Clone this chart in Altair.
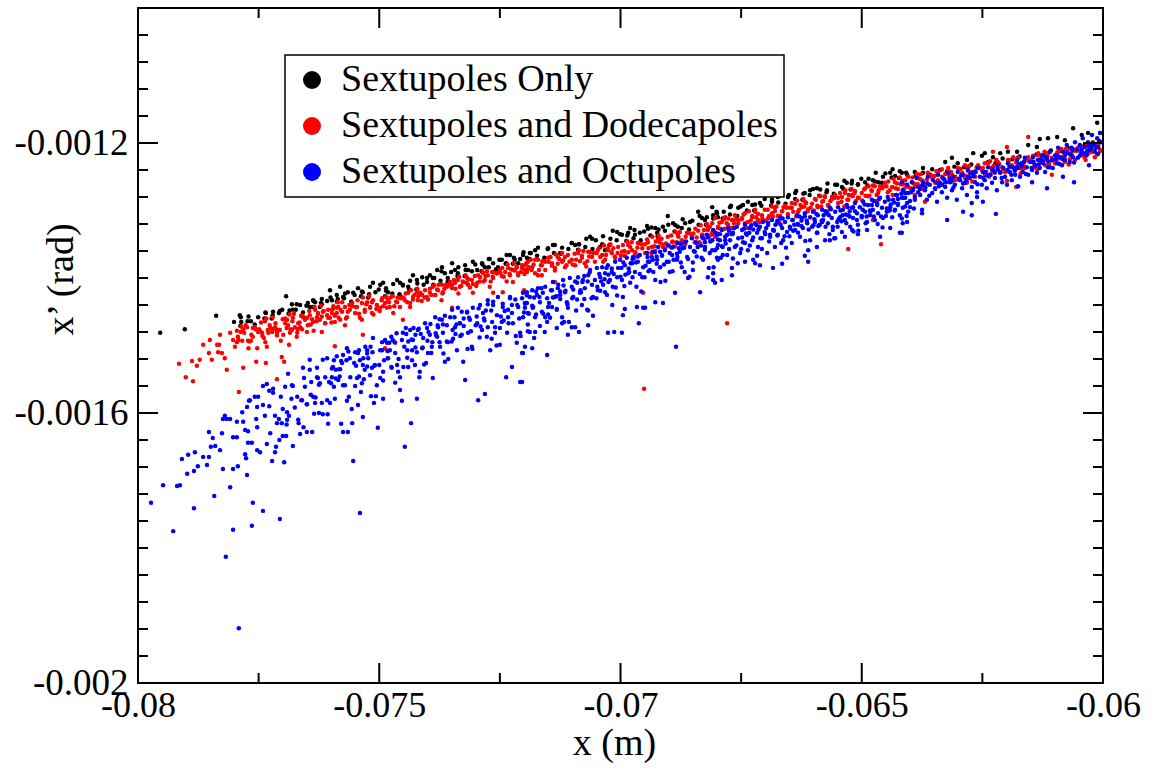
import altair as alt
import pandas as pd

# x in mm, x' in mrad (converted to m / rad below)
black_pts = [
(-79.54,-1.481),(-79.03,-1.476),(-78.38,-1.456),(-77.89,-1.455),(-77.87,-1.458),(-77.66,-1.464),(-77.35,-1.452),(-77.20,-1.450),(-77.06,-1.449),(-76.93,-1.427),(-76.81,-1.439),(-76.79,-1.447),(-76.64,-1.440),(-76.48,-1.437),(-76.44,-1.443),(-76.37,-1.433),(-76.33,-1.436),(-76.19,-1.431),(-76.19,-1.439),(-76.02,-1.418),(-75.98,-1.433),(-75.88,-1.425),
(-75.81,-1.413),(-75.75,-1.428),(-75.65,-1.421),(-75.54,-1.422),(-75.44,-1.415),(-75.34,-1.421),(-75.19,-1.413),(-75.13,-1.407),(-74.98,-1.410),(-74.92,-1.407),(-74.86,-1.415),(-74.82,-1.421),(-74.63,-1.403),(-74.57,-1.407),(-74.51,-1.410),(-74.40,-1.413),(-74.30,-1.396),(-74.22,-1.403),(-74.11,-1.399),(-74.01,-1.406),(-73.95,-1.396),(-73.89,-1.400),(-73.80,-1.388),(-73.70,-1.384),(-73.64,-1.393),(-73.58,-1.400),(-73.49,-1.378),(-73.43,-1.388),(-73.37,-1.393),(-73.22,-1.381),(-73.16,-1.388),(-73.06,-1.376),(-72.97,-1.388),(-72.87,-1.378),(-72.81,-1.384),(-72.73,-1.372),(-72.64,-1.378),(-72.54,-1.384),(-72.46,-1.373),(-72.37,-1.378),(-72.29,-1.366),(-72.19,-1.373),(-72.12,-1.378),(-72.02,-1.366),(-71.94,-1.370),
(-71.88,-1.363),(-71.77,-1.359),(-71.50,-1.356),(-71.40,-1.351),(-71.25,-1.363),(-71.01,-1.348),(-70.94,-1.351),(-70.86,-1.350),(-70.63,-1.339),(-70.59,-1.342),(-70.42,-1.354),(-70.32,-1.359),(-70.16,-1.330),(-70.07,-1.332),(-69.97,-1.336),(-69.84,-1.333),(-69.80,-1.326),(-69.70,-1.336),(-69.60,-1.333),(-69.45,-1.323),(-69.43,-1.327),(-69.28,-1.326),(-69.24,-1.333),(-69.12,-1.324),(-69.02,-1.308),(-68.91,-1.319),(-68.81,-1.324),(-68.66,-1.319),(-68.56,-1.317),(-68.39,-1.302),(-68.31,-1.311),(-68.25,-1.314),(-68.10,-1.295),(-68.08,-1.307),(-67.98,-1.310),
(-68.00,-1.304),(-67.73,-1.295),(-67.56,-1.296),(-67.46,-1.292),(-67.27,-1.292),(-67.11,-1.289),(-66.86,-1.287),(-66.74,-1.280),(-66.53,-1.280),(-66.38,-1.274),(-66.18,-1.274),(-66.07,-1.270),(-65.93,-1.267),(-65.72,-1.270),(-65.55,-1.262),(-65.41,-1.265),(-65.31,-1.259),(-65.20,-1.256),(-65.08,-1.261),(-64.93,-1.258),(-64.77,-1.255),(-64.66,-1.258),(-64.56,-1.250),(-64.41,-1.244),(-64.31,-1.249),(-64.17,-1.244),(-64.06,-1.247),
(-63.90,-1.243),(-63.73,-1.237),(-63.54,-1.239),(-63.27,-1.228),(-63.13,-1.222),(-63.01,-1.230),(-62.82,-1.225),(-62.69,-1.215),(-62.51,-1.219),(-62.45,-1.215),(-62.28,-1.221),(-62.13,-1.215),(-61.97,-1.213),(-61.78,-1.213),(-61.55,-1.203),(-61.37,-1.206),(-61.31,-1.194),(-61.14,-1.193),(-60.95,-1.191),(-60.79,-1.196),(-60.62,-1.178),(-60.44,-1.188),(-60.31,-1.185),(-60.12,-1.170),(-60.06,-1.185),
]

# black band just above the red band (partly hidden beneath red)
black_band = [
(-77.88,-1.471),(-77.73,-1.464),(-77.58,-1.469),(-77.38,-1.460),(-77.23,-1.460),(-77.08,-1.452),(-76.88,-1.453),(-76.73,-1.447),(-76.58,-1.451),(-76.38,-1.443),(-76.23,-1.443),(-76.08,-1.434),(-75.88,-1.435),(-75.73,-1.430),(-75.58,-1.435),(-75.38,-1.427),(-75.23,-1.429),(-75.08,-1.421),
(-74.88,-1.427),(-74.73,-1.423),(-74.58,-1.424),(-74.38,-1.417),(-74.23,-1.417),(-74.08,-1.410),(-73.88,-1.410),(-73.73,-1.404),(-73.58,-1.405),(-73.38,-1.397),(-73.23,-1.397),(-73.08,-1.390),(-72.88,-1.390),(-72.73,-1.384),(-72.58,-1.387),(-72.38,-1.379),(-72.23,-1.379),(-72.08,-1.372),(-71.88,-1.372),(-71.73,-1.367),(-71.58,-1.370),(-71.38,-1.363),(-71.23,-1.364),(-71.08,-1.357),(-70.88,-1.358),(-70.73,-1.354),(-70.58,-1.357),(-70.38,-1.350),(-70.23,-1.351),(-70.08,-1.344),
(-69.88,-1.345),(-69.73,-1.341),(-69.58,-1.344),(-69.38,-1.337),(-69.23,-1.338),(-69.08,-1.330),(-68.88,-1.331),(-68.73,-1.326),(-68.58,-1.328),(-68.38,-1.321),(-68.23,-1.321),(-68.08,-1.312),(-67.88,-1.312),(-67.73,-1.306),(-67.58,-1.308),(-67.38,-1.300),(-67.23,-1.300),(-67.08,-1.293),(-66.88,-1.293),(-66.73,-1.288),(-66.58,-1.290),(-66.38,-1.283),(-66.23,-1.284),(-66.08,-1.277),(-65.88,-1.278),(-65.73,-1.273),(-65.58,-1.275),(-65.38,-1.268),(-65.23,-1.269),(-65.08,-1.262),(-64.88,-1.263),(-64.73,-1.257),(-64.58,-1.259),(-64.38,-1.251),(-64.23,-1.252),(-64.08,-1.244),
(-63.88,-1.249),(-63.73,-1.244),(-63.58,-1.247),(-63.38,-1.240),(-63.23,-1.242),(-63.08,-1.235),(-62.88,-1.236),(-62.73,-1.232),(-62.58,-1.235),(-62.38,-1.228),(-62.23,-1.230),(-62.08,-1.223),(-61.88,-1.224),(-61.73,-1.220),(-61.58,-1.224),(-61.38,-1.217),(-61.23,-1.218),(-61.08,-1.211),(-60.88,-1.212),(-60.73,-1.207),(-60.58,-1.210),(-60.38,-1.203),(-60.23,-1.204),(-60.08,-1.197),
(-78.01,-1.465),(-77.86,-1.465),(-77.71,-1.457),(-77.51,-1.458),(-77.36,-1.451),(-77.21,-1.455),(-77.01,-1.447),(-76.86,-1.448),(-76.71,-1.439),(-76.51,-1.441),(-76.36,-1.434),(-76.21,-1.437),(-76.01,-1.429),(-75.86,-1.431),(-75.71,-1.423),(-75.51,-1.425),(-75.36,-1.420),(-75.21,-1.424),
(-75.01,-1.417),(-74.86,-1.419),(-74.71,-1.409),(-74.51,-1.411),(-74.36,-1.404),(-74.21,-1.408),(-74.01,-1.400),(-73.86,-1.400),(-73.71,-1.390),(-73.51,-1.391),(-73.36,-1.384),(-73.21,-1.388),(-73.01,-1.380),(-72.86,-1.380),(-72.71,-1.372),(-72.51,-1.373),(-72.36,-1.366),(-72.21,-1.370),
(-72.01,-1.362),(-71.86,-1.363),(-71.71,-1.355),(-71.51,-1.357),(-71.36,-1.351),(-71.21,-1.355),(-71.01,-1.348),(-70.86,-1.350),(-70.71,-1.342),(-70.51,-1.344),(-70.36,-1.338),(-70.21,-1.342),(-70.01,-1.335),(-69.86,-1.337),(-69.71,-1.329),(-69.51,-1.331),(-69.36,-1.325),(-69.21,-1.328),
(-69.01,-1.321),(-68.86,-1.322),(-68.71,-1.313),(-68.51,-1.315),(-68.36,-1.308),(-68.21,-1.310),(-68.01,-1.302),(-67.86,-1.302),(-67.71,-1.293),(-67.51,-1.294),(-67.36,-1.287),(-67.21,-1.291),(-67.01,-1.283),(-66.86,-1.284),(-66.71,-1.275),(-66.51,-1.277),(-66.36,-1.271),(-66.21,-1.275),
(-66.01,-1.268),(-65.86,-1.269),(-65.71,-1.260),(-65.51,-1.262),(-65.36,-1.256),(-65.21,-1.260),(-65.01,-1.253),(-64.86,-1.253),(-64.71,-1.244),(-64.51,-1.245),(-64.36,-1.239),(-64.21,-1.242),
]

red_pts = [
(-79.15,-1.527),(-79.01,-1.547),(-78.86,-1.553),(-78.88,-1.523),(-78.78,-1.530),(-78.72,-1.521),(-78.65,-1.499),(-78.51,-1.492),(-78.53,-1.511),(-78.47,-1.521),(-78.36,-1.499),(-78.32,-1.499),(-78.30,-1.484),(-78.34,-1.510),(-78.26,-1.511),(-78.20,-1.519),(-78.16,-1.536),(-78.09,-1.481),(-78.03,-1.492),(-77.95,-1.495),(-77.93,-1.487),(-77.91,-1.569),(-77.87,-1.480),(-77.82,-1.533),(-77.82,-1.476),(-77.74,-1.473),(-77.72,-1.493),(-77.66,-1.493),(-77.62,-1.487),(-77.58,-1.473),(-77.55,-1.524),(-77.53,-1.504),(-77.51,-1.480),(-77.47,-1.479),(-77.43,-1.481),(-77.39,-1.489),(-77.37,-1.464),(-77.35,-1.526),(-77.33,-1.502),(-77.31,-1.477),(-77.26,-1.474),(-77.22,-1.480),(-77.20,-1.476),(-77.16,-1.473),(-77.12,-1.481),(-77.12,-1.477),(-77.08,-1.477),(-77.04,-1.493),(-77.02,-1.517),(-77.00,-1.461),(-76.97,-1.524),(-76.95,-1.467),(-76.91,-1.462),(-76.89,-1.470),(-76.87,-1.499),(-76.85,-1.481),(-76.81,-1.477),(-76.79,-1.459),(-76.77,-1.452),(-76.75,-1.473),(-76.70,-1.481),(-76.68,-1.467),(-76.64,-1.473),(-76.60,-1.476),(-76.58,-1.458),(-76.54,-1.462),(-76.50,-1.480),(-76.48,-1.470),(-76.44,-1.455),(-76.39,-1.461),(-76.37,-1.465),(-76.33,-1.447),(-76.29,-1.458),(-76.27,-1.452),(-76.23,-1.462),(-76.19,-1.480),(-76.17,-1.450),(-76.12,-1.467),(-76.08,-1.455),(-76.06,-1.447),(-76.02,-1.459),(-75.98,-1.452),(-75.96,-1.446),(-75.92,-1.465),(-75.88,-1.452),(-75.85,-1.443),(-77.12,-1.550),(-76.62,-1.581),
(-75.98,-1.447),(-75.92,-1.455),(-75.88,-1.444),(-75.81,-1.462),(-75.77,-1.450),(-75.71,-1.443),(-75.67,-1.458),(-75.61,-1.447),(-75.56,-1.437),(-75.50,-1.452),(-75.46,-1.443),(-75.40,-1.459),(-75.36,-1.437),(-75.30,-1.447),(-75.25,-1.436),(-75.19,-1.443),(-75.15,-1.452),(-75.13,-1.433),(-75.05,-1.440),(-74.98,-1.444),(-74.94,-1.430),(-74.88,-1.437),(-74.82,-1.433),(-74.78,-1.443),(-74.72,-1.427),(-74.63,-1.436),(-74.57,-1.443),(-74.53,-1.428),(-74.47,-1.433),(-74.40,-1.422),(-74.36,-1.437),(-74.30,-1.428),(-74.22,-1.421),(-74.20,-1.433),(-74.11,-1.425),(-74.05,-1.418),(-74.01,-1.428),(-73.95,-1.422),(-73.89,-1.413),(-73.84,-1.425),(-73.78,-1.418),(-73.70,-1.410),(-73.68,-1.421),(-73.60,-1.413),(-73.53,-1.406),(-73.49,-1.415),(-73.43,-1.407),(-73.37,-1.403),(-73.33,-1.413),(-73.26,-1.406),(-73.18,-1.400),(-73.16,-1.410),(-73.08,-1.403),(-73.02,-1.397),(-72.97,-1.407),(-72.91,-1.399),(-72.85,-1.393),(-72.81,-1.403),(-72.75,-1.396),(-72.66,-1.391),(-72.64,-1.400),(-72.56,-1.393),(-72.50,-1.388),(-72.46,-1.397),(-72.39,-1.391),(-72.33,-1.385),(-72.29,-1.396),(-72.23,-1.388),(-72.15,-1.384),(-72.12,-1.393),(-72.04,-1.385),(-71.98,-1.381),(-71.94,-1.391),(-71.90,-1.384),
(-75.92,-1.501),(-75.34,-1.484),(-74.88,-1.504),(-74.67,-1.496),(-74.51,-1.462),(-73.49,-1.444),(-73.06,-1.422),(-72.64,-1.422),(-72.44,-1.421),(-72.23,-1.406),
(-72.04,-1.381),(-71.98,-1.388),(-71.92,-1.376),(-71.83,-1.384),(-71.77,-1.393),(-71.71,-1.373),(-71.63,-1.381),(-71.56,-1.388),(-71.50,-1.370),(-71.42,-1.378),(-71.36,-1.385),(-71.30,-1.369),(-71.21,-1.376),(-71.15,-1.384),(-71.09,-1.366),(-71.01,-1.373),(-70.94,-1.381),(-70.88,-1.363),(-70.80,-1.370),(-70.74,-1.378),(-70.67,-1.361),(-70.59,-1.369),(-70.53,-1.376),(-70.47,-1.359),(-70.38,-1.366),(-70.32,-1.373),(-70.26,-1.356),(-70.18,-1.363),(-70.11,-1.370),(-70.05,-1.354),(-69.97,-1.361),(-69.91,-1.367),(-69.84,-1.351),(-69.76,-1.359),(-69.70,-1.364),(-69.64,-1.348),(-69.55,-1.356),(-69.49,-1.363),(-69.43,-1.347),(-69.35,-1.354),(-69.28,-1.360),(-69.22,-1.342),(-69.14,-1.350),(-69.08,-1.356),(-69.02,-1.339),(-68.93,-1.347),(-68.87,-1.353),(-68.81,-1.336),(-68.73,-1.344),(-68.66,-1.350),(-68.60,-1.333),(-68.52,-1.339),(-68.46,-1.347),(-68.39,-1.330),(-68.31,-1.336),(-68.25,-1.342),(-68.19,-1.326),(-68.10,-1.333),(-68.04,-1.339),(-67.98,-1.324),
(-71.63,-1.396),(-71.36,-1.406),(-72.00,-1.418),(-69.53,-1.422),(-69.51,-1.564),
(-68.10,-1.319),(-68.04,-1.311),(-67.98,-1.326),(-67.90,-1.317),(-67.83,-1.310),(-67.77,-1.321),(-67.69,-1.314),(-67.63,-1.307),(-67.56,-1.319),(-67.48,-1.311),(-67.42,-1.304),(-67.36,-1.317),(-67.27,-1.310),(-67.21,-1.302),(-67.15,-1.314),(-67.07,-1.307),(-67.01,-1.299),(-66.94,-1.311),(-66.86,-1.304),(-66.80,-1.296),(-66.74,-1.308),(-66.65,-1.301),(-66.59,-1.293),(-66.53,-1.305),(-66.45,-1.296),(-66.38,-1.290),(-66.32,-1.302),(-66.24,-1.295),(-66.18,-1.287),(-66.11,-1.298),(-66.03,-1.290),(-65.97,-1.283),(-65.91,-1.295),(-65.82,-1.287),(-65.76,-1.280),(-65.70,-1.292),(-65.62,-1.283),(-65.55,-1.277),(-65.49,-1.289),(-65.41,-1.280),(-65.35,-1.274),(-65.28,-1.284),(-65.20,-1.277),(-65.14,-1.271),(-65.08,-1.281),(-65.00,-1.274),(-64.93,-1.267),(-64.87,-1.279),(-64.79,-1.271),(-64.73,-1.264),(-64.66,-1.274),(-64.58,-1.267),(-64.52,-1.259),(-64.46,-1.273),(-64.37,-1.265),(-64.31,-1.258),(-64.25,-1.268),(-64.17,-1.261),(-64.10,-1.255),(-64.04,-1.265),
(-67.79,-1.467),(-65.28,-1.357),(-64.60,-1.350),(-64.77,-1.314),(-68.08,-1.333),
(-64.10,-1.262),(-64.04,-1.250),(-63.96,-1.258),(-63.90,-1.265),(-63.83,-1.247),(-63.75,-1.255),(-63.69,-1.262),(-63.63,-1.244),(-63.54,-1.252),(-63.48,-1.259),(-63.42,-1.243),(-63.34,-1.250),(-63.27,-1.258),(-63.21,-1.240),(-63.13,-1.247),(-63.07,-1.255),(-63.01,-1.237),(-62.92,-1.244),(-62.86,-1.252),(-62.80,-1.236),(-62.72,-1.243),(-62.65,-1.250),(-62.59,-1.233),(-62.51,-1.240),(-62.45,-1.247),(-62.38,-1.230),(-62.30,-1.237),(-62.24,-1.244),(-62.18,-1.228),(-62.09,-1.236),(-62.03,-1.243),(-61.97,-1.225),(-61.89,-1.233),(-61.82,-1.240),(-61.76,-1.222),(-61.68,-1.230),(-61.62,-1.237),(-61.55,-1.221),(-61.47,-1.228),(-61.41,-1.236),(-61.35,-1.218),(-61.26,-1.225),(-61.20,-1.233),(-61.14,-1.215),(-61.06,-1.222),(-60.99,-1.230),(-60.93,-1.213),(-60.85,-1.221),(-60.79,-1.228),(-60.73,-1.210),(-60.65,-1.218),(-60.58,-1.225),(-60.52,-1.207),(-60.44,-1.215),(-60.38,-1.222),(-60.31,-1.206),(-60.23,-1.213),(-60.17,-1.221),(-60.10,-1.203),(-60.06,-1.210),
(-61.99,-1.206),(-61.55,-1.191),(-62.28,-1.213),(-61.06,-1.247),(-61.80,-1.265),(-61.99,-1.256),(-63.69,-1.287),(-63.90,-1.277),(-62.82,-1.259),
]

# dense core of the red band
red_band = [
(-77.95,-1.478),(-77.92,-1.492),(-77.99,-1.502),(-77.80,-1.481),(-77.77,-1.470),(-77.84,-1.493),(-77.65,-1.484),(-77.62,-1.474),(-77.69,-1.494),
(-77.45,-1.466),(-77.42,-1.486),(-77.49,-1.476),(-77.30,-1.481),(-77.27,-1.470),(-77.34,-1.460),(-77.15,-1.467),(-77.12,-1.485),(-77.19,-1.475),
(-76.95,-1.460),(-76.92,-1.474),(-76.99,-1.484),(-76.80,-1.464),(-76.77,-1.453),(-76.84,-1.476),(-76.65,-1.466),(-76.62,-1.456),(-76.69,-1.476),
(-76.45,-1.449),(-76.42,-1.469),(-76.49,-1.459),(-76.30,-1.464),(-76.27,-1.453),(-76.34,-1.443),(-76.15,-1.449),(-76.12,-1.467),(-76.19,-1.457),
(-75.95,-1.442),(-75.92,-1.456),(-75.99,-1.466),(-75.80,-1.447),(-75.77,-1.436),(-75.84,-1.459),(-75.65,-1.450),(-75.62,-1.440),(-75.69,-1.460),
(-75.45,-1.433),(-75.42,-1.453),(-75.49,-1.443),(-75.30,-1.450),(-75.27,-1.439),(-75.34,-1.429),(-75.15,-1.436),(-75.12,-1.454),(-75.19,-1.444),
(-74.95,-1.433),(-74.92,-1.442),(-74.99,-1.449),(-74.80,-1.436),(-74.77,-1.429),(-74.84,-1.444),(-74.65,-1.435),(-74.62,-1.429),(-74.69,-1.442),
(-74.45,-1.423),(-74.42,-1.436),(-74.49,-1.430),(-74.30,-1.432),(-74.27,-1.425),(-74.34,-1.418),(-74.15,-1.422),(-74.12,-1.434),(-74.19,-1.427),
(-73.95,-1.416),(-73.92,-1.425),(-73.99,-1.432),(-73.80,-1.417),(-73.77,-1.410),(-73.84,-1.425),(-73.65,-1.416),(-73.62,-1.410),(-73.69,-1.423),
(-73.45,-1.403),(-73.42,-1.416),(-73.49,-1.410),(-73.30,-1.412),(-73.27,-1.405),(-73.34,-1.398),(-73.15,-1.402),(-73.12,-1.414),(-73.19,-1.407),
(-72.95,-1.396),(-72.92,-1.405),(-72.99,-1.412),(-72.80,-1.397),(-72.77,-1.390),(-72.84,-1.405),(-72.65,-1.398),(-72.62,-1.392),(-72.69,-1.405),
(-72.45,-1.385),(-72.42,-1.398),(-72.49,-1.392),(-72.30,-1.394),(-72.27,-1.387),(-72.34,-1.380),(-72.15,-1.384),(-72.12,-1.396),(-72.19,-1.389),
(-71.95,-1.378),(-71.92,-1.387),(-71.99,-1.394),(-71.80,-1.380),(-71.77,-1.373),(-71.84,-1.388),(-71.65,-1.381),(-71.62,-1.375),(-71.69,-1.388),
(-71.45,-1.369),(-71.42,-1.382),(-71.49,-1.376),(-71.30,-1.379),(-71.27,-1.372),(-71.34,-1.365),(-71.15,-1.369),(-71.12,-1.381),(-71.19,-1.374),
(-70.95,-1.364),(-70.92,-1.373),(-70.99,-1.380),(-70.80,-1.367),(-70.77,-1.360),(-70.84,-1.375),(-70.65,-1.368),(-70.62,-1.362),(-70.69,-1.375),
(-70.45,-1.356),(-70.42,-1.369),(-70.49,-1.363),(-70.30,-1.366),(-70.27,-1.359),(-70.34,-1.352),(-70.15,-1.356),(-70.12,-1.368),(-70.19,-1.361),
(-69.95,-1.351),(-69.92,-1.360),(-69.99,-1.367),(-69.80,-1.354),(-69.77,-1.347),(-69.84,-1.362),(-69.65,-1.355),(-69.62,-1.349),(-69.69,-1.362),
(-69.45,-1.343),(-69.42,-1.356),(-69.49,-1.350),(-69.30,-1.353),(-69.27,-1.346),(-69.34,-1.339),(-69.15,-1.342),(-69.12,-1.354),(-69.19,-1.347),
(-68.95,-1.337),(-68.92,-1.346),(-68.99,-1.353),(-68.80,-1.339),(-68.77,-1.332),(-68.84,-1.347),(-68.65,-1.339),(-68.62,-1.333),(-68.69,-1.346),
(-68.45,-1.327),(-68.42,-1.340),(-68.49,-1.334),(-68.30,-1.336),(-68.27,-1.329),(-68.34,-1.322),(-68.15,-1.324),(-68.12,-1.336),(-68.19,-1.329),
(-67.95,-1.318),(-67.92,-1.327),(-67.99,-1.334),(-67.80,-1.319),(-67.77,-1.312),(-67.84,-1.327),(-67.65,-1.319),(-67.62,-1.313),(-67.69,-1.326),
(-67.45,-1.306),(-67.42,-1.319),(-67.49,-1.313),(-67.30,-1.315),(-67.27,-1.308),(-67.34,-1.301),(-67.15,-1.305),(-67.12,-1.317),(-67.19,-1.310),
(-66.95,-1.299),(-66.92,-1.308),(-66.99,-1.315),(-66.80,-1.301),(-66.77,-1.294),(-66.84,-1.309),(-66.65,-1.301),(-66.62,-1.295),(-66.69,-1.308),
(-66.45,-1.289),(-66.42,-1.302),(-66.49,-1.296),(-66.30,-1.299),(-66.27,-1.292),(-66.34,-1.285),(-66.15,-1.289),(-66.12,-1.301),(-66.19,-1.294),
(-65.95,-1.284),(-65.92,-1.293),(-65.99,-1.300),(-65.80,-1.286),(-65.77,-1.279),(-65.84,-1.294),(-65.65,-1.286),(-65.62,-1.280),(-65.69,-1.293),
(-65.45,-1.274),(-65.42,-1.287),(-65.49,-1.281),(-65.30,-1.284),(-65.27,-1.277),(-65.34,-1.270),(-65.15,-1.274),(-65.12,-1.286),(-65.19,-1.279),
(-64.95,-1.269),(-64.92,-1.278),(-64.99,-1.285),(-64.80,-1.270),(-64.77,-1.263),(-64.84,-1.278),(-64.65,-1.270),(-64.62,-1.264),(-64.69,-1.277),
(-64.45,-1.257),(-64.42,-1.270),(-64.49,-1.264),(-64.30,-1.267),(-64.27,-1.260),(-64.34,-1.253),(-64.15,-1.256),(-64.12,-1.268),(-64.19,-1.261),
(-63.95,-1.251),(-63.92,-1.260),(-63.99,-1.267),(-63.80,-1.253),(-63.77,-1.246),(-63.84,-1.261),(-63.65,-1.254),(-63.62,-1.248),(-63.69,-1.261),
(-63.45,-1.242),(-63.42,-1.255),(-63.49,-1.249),(-63.30,-1.253),(-63.27,-1.246),(-63.34,-1.239),(-63.15,-1.243),(-63.12,-1.255),(-63.19,-1.248),
(-62.95,-1.238),(-62.92,-1.247),(-62.99,-1.254),(-62.80,-1.241),(-62.77,-1.234),(-62.84,-1.249),(-62.65,-1.242),(-62.62,-1.236),(-62.69,-1.249),
(-62.45,-1.230),(-62.42,-1.243),(-62.49,-1.237),(-62.30,-1.241),(-62.27,-1.234),(-62.34,-1.227),(-62.15,-1.231),(-62.12,-1.243),(-62.19,-1.236),
(-61.95,-1.226),(-61.92,-1.235),(-61.99,-1.242),(-61.80,-1.229),(-61.77,-1.222),(-61.84,-1.237),(-61.65,-1.231),(-61.62,-1.225),(-61.69,-1.238),
(-61.45,-1.219),(-61.42,-1.232),(-61.49,-1.226),(-61.30,-1.229),(-61.27,-1.222),(-61.34,-1.215),(-61.15,-1.219),(-61.12,-1.231),(-61.19,-1.224),
(-60.95,-1.214),(-60.92,-1.223),(-60.99,-1.230),(-60.80,-1.216),(-60.77,-1.209),(-60.84,-1.224),(-60.65,-1.217),(-60.62,-1.211),(-60.69,-1.224),
(-60.45,-1.205),(-60.42,-1.218),(-60.49,-1.212),(-60.30,-1.215),(-60.27,-1.208),(-60.34,-1.201),(-60.15,-1.205),(-60.12,-1.217),(-60.19,-1.210),
(-77.86,-1.472),(-77.71,-1.504),(-77.56,-1.476),(-77.36,-1.495),(-77.21,-1.458),(-77.06,-1.477),(-76.86,-1.454),(-76.71,-1.487),(-76.56,-1.458),(-76.36,-1.478),(-76.21,-1.441),(-76.06,-1.459),
(-75.86,-1.436),(-75.71,-1.470),(-75.56,-1.442),(-75.36,-1.462),(-75.21,-1.427),(-75.06,-1.446),(-74.86,-1.428),(-74.71,-1.452),(-74.56,-1.430),(-74.36,-1.443),(-74.21,-1.416),(-74.06,-1.429),
(-73.86,-1.411),(-73.71,-1.433),(-73.56,-1.411),(-73.36,-1.423),(-73.21,-1.396),(-73.06,-1.409),(-72.86,-1.391),(-72.71,-1.413),(-72.56,-1.393),(-72.36,-1.405),(-72.21,-1.378),(-72.06,-1.391),
(-71.86,-1.373),(-71.71,-1.396),(-71.56,-1.376),(-71.36,-1.389),(-71.21,-1.363),(-71.06,-1.376),(-70.86,-1.359),(-70.71,-1.383),(-70.56,-1.363),(-70.36,-1.376),(-70.21,-1.350),(-70.06,-1.363),
(-69.86,-1.346),(-69.71,-1.370),(-69.56,-1.350),(-69.36,-1.363),(-69.21,-1.337),(-69.06,-1.349),(-68.86,-1.332),(-68.71,-1.355),(-68.56,-1.334),(-68.36,-1.347),(-68.21,-1.320),(-68.06,-1.331),
(-67.86,-1.313),(-67.71,-1.335),(-67.56,-1.314),(-67.36,-1.326),(-67.21,-1.299),(-67.06,-1.312),(-66.86,-1.294),(-66.71,-1.317),(-66.56,-1.296),(-66.36,-1.309),(-66.21,-1.283),(-66.06,-1.296),
(-65.86,-1.279),(-65.71,-1.302),(-65.56,-1.281),(-65.36,-1.294),(-65.21,-1.268),(-65.06,-1.281),(-64.86,-1.264),(-64.71,-1.286),(-64.56,-1.265),(-64.36,-1.277),(-64.21,-1.251),(-64.06,-1.263),
(-63.86,-1.246),(-63.71,-1.269),(-63.56,-1.249),(-63.36,-1.262),(-63.21,-1.237),(-63.06,-1.250),(-62.86,-1.233),(-62.71,-1.257),(-62.56,-1.237),(-62.36,-1.250),(-62.21,-1.225),(-62.06,-1.238),
(-61.86,-1.221),(-61.71,-1.245),(-61.56,-1.226),(-61.36,-1.239),(-61.21,-1.213),(-61.06,-1.226),(-60.86,-1.209),(-60.71,-1.232),(-60.56,-1.212),(-60.36,-1.225),(-60.21,-1.199),(-60.06,-1.212),
]

blue_pts = [
(-79.73,-1.733),(-79.48,-1.707),(-79.27,-1.775),(-79.19,-1.708),(-79.13,-1.707),(-79.09,-1.668),(-78.98,-1.690),(-78.96,-1.662),(-78.84,-1.686),(-78.82,-1.658),(-78.84,-1.741),(-78.76,-1.679),(-78.65,-1.665),(-78.57,-1.677),(-78.53,-1.628),(-78.53,-1.665),(-78.49,-1.650),(-78.45,-1.637),(-78.42,-1.723),(-78.40,-1.649),(-78.30,-1.655),(-78.26,-1.630),(-78.24,-1.683),(-78.24,-1.609),(-78.20,-1.604),(-78.18,-1.813),(-78.16,-1.609),(-78.09,-1.609),(-78.09,-1.710),(-78.03,-1.636),(-78.03,-1.683),(-78.03,-1.773),(-77.95,-1.636),(-77.95,-1.613),(-77.93,-1.679),(-77.91,-1.919),(-77.84,-1.599),(-77.82,-1.613),(-77.78,-1.625),(-77.76,-1.667),(-77.78,-1.661),(-77.74,-1.591),(-77.74,-1.692),(-77.72,-1.644),(-77.72,-1.627),(-77.70,-1.582),(-77.68,-1.581),(-77.64,-1.644),(-77.62,-1.733),(-77.64,-1.767),(-77.58,-1.576),(-77.55,-1.609),(-77.53,-1.621),(-77.53,-1.591),(-77.51,-1.576),(-77.53,-1.655),(-77.47,-1.658),(-77.41,-1.745),(-77.41,-1.588),(-77.41,-1.560),(-77.37,-1.604),(-77.33,-1.646),(-77.33,-1.557),(-77.28,-1.590),(-77.26,-1.630),(-77.22,-1.671),(-77.28,-1.567),(-77.20,-1.564),(-77.20,-1.570),(-77.16,-1.604),(-77.16,-1.658),(-77.14,-1.650),(-77.12,-1.615),(-77.08,-1.609),(-77.06,-1.757),(-77.04,-1.576),(-77.02,-1.615),(-77.00,-1.634),(-76.97,-1.673),(-76.95,-1.561),(-76.93,-1.634),(-76.91,-1.599),(-76.91,-1.610),(-76.89,-1.542),(-76.87,-1.604),(-76.81,-1.559),(-76.79,-1.649),(-76.79,-1.560),(-76.70,-1.576),(-76.68,-1.610),(-76.64,-1.631),(-76.60,-1.581),(-76.58,-1.533),(-76.56,-1.548),(-76.54,-1.561),(-76.50,-1.587),(-76.50,-1.628),(-76.44,-1.521),(-76.44,-1.536),(-76.41,-1.554),(-76.39,-1.628),(-76.37,-1.576),(-76.35,-1.601),(-76.33,-1.585),(-76.29,-1.533),(-76.29,-1.547),(-76.27,-1.548),(-76.25,-1.600),(-76.23,-1.556),(-76.19,-1.585),(-76.17,-1.521),(-76.12,-1.547),(-76.08,-1.519),(-76.08,-1.581),(-76.06,-1.616),(-76.04,-1.554),(-76.02,-1.585),(-75.98,-1.547),(-75.96,-1.532),(-75.94,-1.561),(-75.90,-1.536),(-75.88,-1.516),(-75.85,-1.551),(-75.81,-1.535),(-75.79,-1.616),(-75.77,-1.526),(-75.75,-1.628),(-75.71,-1.559),(-75.67,-1.504),(-75.65,-1.628),(-75.63,-1.576),(-75.61,-1.519),(-75.56,-1.615),(-75.54,-1.671),(-75.52,-1.526),(-75.50,-1.510),(-75.46,-1.548),(-75.44,-1.588),(-75.42,-1.507),(-75.40,-1.748),(-75.38,-1.569),(-75.36,-1.556),(-75.34,-1.606),(-75.34,-1.529),(-75.30,-1.536),(-75.25,-1.507),(-75.23,-1.519),(-75.19,-1.544),(-75.15,-1.533),(-75.13,-1.489),(-75.11,-1.585),(-75.09,-1.529),(-75.05,-1.559),(-75.03,-1.622),(-74.98,-1.548),(-74.94,-1.507),(-74.92,-1.579),(-74.92,-1.539),(-74.88,-1.492),(-74.84,-1.496),(-74.82,-1.519),(-74.78,-1.507),(-74.74,-1.533),(-74.72,-1.492),(-74.67,-1.511),(-74.63,-1.529),(-74.61,-1.539),(-74.57,-1.547),(-74.53,-1.492),(-74.53,-1.582),(-74.51,-1.481),(-74.47,-1.650),(-74.45,-1.474),(-74.42,-1.507),(-74.40,-1.532),(-74.36,-1.477),(-74.34,-1.615),(-74.32,-1.507),(-74.30,-1.492),(-74.26,-1.529),(-74.22,-1.579),(-74.22,-1.510),(-74.20,-1.477),(-74.16,-1.539),(-74.11,-1.504),(-74.09,-1.489),(-74.05,-1.467),(-74.03,-1.526),(-74.01,-1.474),(-73.99,-1.511),(-73.95,-1.484),(-73.91,-1.502),(-73.89,-1.548),(-73.84,-1.458),(-73.80,-1.487),(-73.78,-1.473),(-73.74,-1.502),(-73.70,-1.462),(-73.68,-1.481),(-73.64,-1.524),(-73.60,-1.470),(-73.58,-1.495),(-73.53,-1.458),(-73.49,-1.447),(-73.47,-1.490),(-73.43,-1.473),(-73.39,-1.507),(-73.37,-1.444),(-73.33,-1.467),(-73.29,-1.484),(-73.26,-1.524),(-73.22,-1.551),(-73.18,-1.450),(-73.16,-1.481),(-73.12,-1.462),(-73.08,-1.502),(-73.06,-1.444),(-72.97,-1.467),(-72.95,-1.581),(-72.91,-1.440),(-72.87,-1.477),(-72.85,-1.452),(-72.81,-1.572),(-72.77,-1.487),(-72.75,-1.433),(-72.70,-1.507),(-72.66,-1.465),(-72.64,-1.440),(-72.60,-1.481),(-72.56,-1.455),(-72.54,-1.428),(-72.50,-1.499),(-72.46,-1.465),(-72.44,-1.443),(-72.37,-1.547),(-72.35,-1.481),(-72.33,-1.458),(-72.29,-1.428),(-72.25,-1.532),(-72.23,-1.467),(-72.15,-1.496),(-72.12,-1.443),(-72.08,-1.554),(-72.04,-1.511),(-72.02,-1.458),(-71.98,-1.437),(-71.94,-1.421),(-71.92,-1.479),
(-72.04,-1.430),(-72.02,-1.422),(-71.98,-1.444),(-71.94,-1.437),(-71.92,-1.452),(-71.88,-1.428),(-71.83,-1.418),(-71.81,-1.443),(-71.77,-1.458),(-71.73,-1.425),(-71.71,-1.415),(-71.67,-1.436),(-71.63,-1.450),(-71.61,-1.422),(-71.56,-1.413),(-71.52,-1.430),(-71.50,-1.443),(-71.46,-1.459),(-71.42,-1.418),(-71.40,-1.406),(-71.36,-1.428),(-71.32,-1.447),(-71.30,-1.415),(-71.25,-1.425),(-71.21,-1.458),(-71.19,-1.403),(-71.15,-1.421),(-71.11,-1.436),(-71.09,-1.444),(-71.05,-1.400),(-71.01,-1.413),(-70.98,-1.428),(-70.94,-1.473),(-70.90,-1.407),(-70.88,-1.399),(-70.84,-1.422),(-70.80,-1.440),(-70.78,-1.403),(-70.74,-1.415),(-70.69,-1.447),(-70.67,-1.396),(-70.63,-1.388),(-70.59,-1.410),(-70.57,-1.428),(-70.53,-1.403),(-70.49,-1.385),(-70.47,-1.418),(-70.42,-1.399),(-70.38,-1.384),(-70.36,-1.410),(-70.32,-1.393),(-70.28,-1.425),(-70.26,-1.381),(-70.22,-1.403),(-70.18,-1.391),(-70.16,-1.413),(-70.11,-1.376),(-70.07,-1.399),(-70.05,-1.385),(-70.01,-1.373),(-69.97,-1.403),(-69.95,-1.428),(-69.91,-1.381),(-69.87,-1.370),(-69.84,-1.393),(-69.80,-1.407),(-69.76,-1.378),(-69.74,-1.369),(-69.70,-1.391),(-69.66,-1.443),(-69.64,-1.376),(-69.60,-1.366),(-69.55,-1.399),(-69.53,-1.384),(-69.49,-1.444),(-69.45,-1.363),(-69.43,-1.376),(-69.39,-1.388),(-69.35,-1.369),(-69.33,-1.361),(-69.28,-1.403),(-69.24,-1.373),(-69.22,-1.354),(-69.18,-1.384),(-69.14,-1.366),(-69.12,-1.437),(-69.08,-1.359),(-69.04,-1.376),(-69.02,-1.351),(-68.98,-1.391),(-68.93,-1.366),(-68.91,-1.354),(-68.87,-1.422),(-68.83,-1.373),(-68.81,-1.348),(-68.77,-1.361),(-68.73,-1.384),(-68.71,-1.356),(-68.66,-1.347),(-68.62,-1.369),(-68.60,-1.400),(-68.56,-1.354),(-68.52,-1.341),(-68.50,-1.388),(-68.46,-1.361),(-68.42,-1.348),(-68.35,-1.421),(-68.31,-1.339),(-68.29,-1.373),(-68.25,-1.354),(-68.21,-1.336),(-68.19,-1.399),(-68.15,-1.363),(-68.10,-1.344),(-68.08,-1.403),(-68.04,-1.333),(-68.00,-1.370),(-67.98,-1.351),
(-72.08,-1.481),(-71.88,-1.480),(-71.77,-1.480),(-71.79,-1.489),(-71.98,-1.502),(-72.02,-1.511),(-71.83,-1.504),(-71.56,-1.458),(-71.52,-1.465),(-71.52,-1.514),(-71.32,-1.474),(-71.21,-1.467),(-71.09,-1.484),(-71.01,-1.473),(-70.86,-1.480),(-70.67,-1.470),(-70.26,-1.481),(-70.13,-1.480),(-69.97,-1.481),(-69.95,-1.455),(-69.91,-1.446),(-69.62,-1.467),(-69.53,-1.444),(-69.28,-1.436),(-68.85,-1.502),(-72.04,-1.554),
(-68.10,-1.344),(-68.08,-1.329),(-68.04,-1.359),(-68.00,-1.336),(-67.98,-1.373),(-67.94,-1.344),(-67.90,-1.329),(-67.88,-1.354),(-67.83,-1.339),(-67.79,-1.366),(-67.77,-1.326),(-67.73,-1.344),(-67.69,-1.385),(-67.67,-1.333),(-67.63,-1.354),(-67.59,-1.324),(-67.56,-1.341),(-67.52,-1.363),(-67.48,-1.329),(-67.46,-1.347),(-67.42,-1.321),(-67.38,-1.336),(-67.36,-1.359),(-67.32,-1.326),(-67.27,-1.344),(-67.25,-1.373),(-67.21,-1.319),(-67.17,-1.333),(-67.15,-1.354),(-67.11,-1.324),(-67.07,-1.341),(-67.05,-1.317),(-67.01,-1.332),(-66.96,-1.363),(-66.94,-1.321),(-66.90,-1.339),(-66.86,-1.314),(-66.84,-1.329),(-66.80,-1.354),(-66.76,-1.319),(-66.74,-1.336),(-66.69,-1.311),(-66.65,-1.326),(-66.63,-1.344),(-66.59,-1.317),(-66.55,-1.332),(-66.53,-1.310),(-66.49,-1.324),(-66.45,-1.348),(-66.43,-1.314),(-66.38,-1.329),(-66.34,-1.307),(-66.32,-1.321),(-66.28,-1.339),(-66.24,-1.311),(-66.22,-1.326),(-66.18,-1.304),(-66.13,-1.319),(-66.11,-1.359),(-66.07,-1.310),(-66.03,-1.324),(-66.01,-1.302),(-65.97,-1.317),(-65.93,-1.333),(-65.91,-1.307),(-65.87,-1.321),(-65.82,-1.299),(-65.80,-1.314),(-65.76,-1.344),(-65.72,-1.304),(-65.70,-1.319),(-65.66,-1.296),(-65.62,-1.311),(-65.60,-1.329),(-65.55,-1.302),(-65.51,-1.317),(-65.49,-1.295),(-65.45,-1.310),(-65.41,-1.332),(-65.39,-1.299),(-65.35,-1.314),(-65.31,-1.292),(-65.28,-1.307),(-65.24,-1.324),(-65.20,-1.296),(-65.18,-1.311),(-65.14,-1.289),(-65.10,-1.304),(-65.08,-1.321),(-65.04,-1.295),(-65.00,-1.310),(-64.97,-1.287),(-64.93,-1.302),(-64.89,-1.317),(-64.87,-1.292),(-64.83,-1.307),(-64.79,-1.284),(-64.77,-1.299),(-64.73,-1.314),(-64.68,-1.289),(-64.66,-1.304),(-64.62,-1.281),(-64.58,-1.296),(-64.56,-1.311),(-64.52,-1.287),(-64.48,-1.302),(-64.46,-1.280),(-64.41,-1.295),(-64.37,-1.310),(-64.35,-1.284),(-64.31,-1.299),(-64.27,-1.277),(-64.25,-1.292),(-64.21,-1.307),(-64.17,-1.281),(-64.15,-1.296),(-64.10,-1.274),(-64.06,-1.289),(-64.04,-1.302),
(-67.90,-1.403),(-68.08,-1.393),(-68.04,-1.407),(-67.69,-1.396),(-67.88,-1.366),(-67.42,-1.376),(-67.21,-1.378),(-67.11,-1.381),(-66.84,-1.385),(-66.65,-1.379),(-66.55,-1.370),(-66.18,-1.367),(-66.11,-1.376),(-65.93,-1.354),(-65.66,-1.344),(-65.55,-1.341),(-65.20,-1.329),(-64.41,-1.326),(-64.17,-1.333),(-64.62,-1.339),(-65.08,-1.335),(-65.35,-1.339),(-64.89,-1.329),
(-64.17,-1.258),(-64.15,-1.270),(-64.10,-1.281),(-64.06,-1.262),(-64.04,-1.274),(-64.00,-1.295),(-63.96,-1.258),(-63.94,-1.270),(-63.90,-1.284),(-63.86,-1.252),(-63.83,-1.265),(-63.79,-1.277),(-63.75,-1.299),(-63.73,-1.258),(-63.69,-1.270),(-63.65,-1.284),(-63.63,-1.250),(-63.59,-1.262),(-63.54,-1.274),(-63.52,-1.255),(-63.48,-1.267),(-63.44,-1.287),(-63.42,-1.247),(-63.38,-1.259),(-63.34,-1.273),(-63.32,-1.252),(-63.27,-1.265),(-63.23,-1.281),(-63.21,-1.244),(-63.17,-1.258),(-63.13,-1.270),(-63.11,-1.250),(-63.07,-1.262),(-63.03,-1.284),(-63.01,-1.243),(-62.96,-1.255),(-62.92,-1.267),(-62.90,-1.247),(-62.86,-1.259),(-62.82,-1.277),(-62.80,-1.240),(-62.76,-1.252),(-62.72,-1.265),(-62.69,-1.244),(-62.65,-1.258),(-62.61,-1.273),(-62.59,-1.237),(-62.55,-1.250),(-62.51,-1.262),(-62.49,-1.243),(-62.45,-1.255),(-62.41,-1.267),(-62.38,-1.236),(-62.34,-1.247),(-62.30,-1.259),(-62.28,-1.240),(-62.24,-1.252),(-62.20,-1.270),(-62.18,-1.233),(-62.13,-1.244),(-62.09,-1.258),(-62.07,-1.237),(-62.03,-1.250),(-61.99,-1.262),(-61.97,-1.230),(-61.93,-1.243),(-61.89,-1.255),(-61.87,-1.236),(-61.82,-1.247),(-61.78,-1.225),(-61.76,-1.237),(-61.72,-1.250),(-61.68,-1.230),(-61.66,-1.243),(-61.62,-1.222),(-61.58,-1.236),(-61.55,-1.247),(-61.51,-1.228),(-61.47,-1.240),(-61.45,-1.221),(-61.41,-1.233),(-61.37,-1.244),(-61.35,-1.225),(-61.31,-1.237),(-61.26,-1.218),(-61.24,-1.230),(-61.20,-1.243),(-61.16,-1.222),(-61.14,-1.236),(-61.10,-1.213),(-61.06,-1.225),(-61.04,-1.237),(-60.99,-1.218),(-60.95,-1.230),(-60.93,-1.207),(-60.89,-1.221),(-60.85,-1.233),(-60.83,-1.213),(-60.79,-1.225),(-60.75,-1.203),(-60.73,-1.215),(-60.69,-1.228),(-60.65,-1.207),(-60.62,-1.221),(-60.58,-1.199),(-60.54,-1.210),(-60.52,-1.222),(-60.48,-1.203),(-60.44,-1.215),(-60.42,-1.193),(-60.38,-1.206),(-60.34,-1.218),(-60.31,-1.199),(-60.27,-1.210),(-60.23,-1.188),(-60.21,-1.200),(-60.17,-1.213),(-60.12,-1.193),(-60.10,-1.206),(-60.06,-1.185),(-60.04,-1.199),
(-64.21,-1.333),(-64.15,-1.319),(-64.06,-1.317),(-63.75,-1.304),(-63.23,-1.314),(-62.90,-1.302),(-62.72,-1.307),(-62.72,-1.289),(-62.61,-1.280),(-62.49,-1.287),(-62.22,-1.305),(-61.76,-1.264),(-61.47,-1.258),(-61.16,-1.267),(-60.83,-1.250),(-60.60,-1.258),(-60.29,-1.233),
]

# dense upper core of the blue cloud
blue_band = [
(-75.94,-1.522),(-75.98,-1.534),(-75.90,-1.549),(-75.79,-1.523),(-75.83,-1.535),(-75.75,-1.514),(-75.64,-1.509),(-75.68,-1.522),(-75.60,-1.547),
(-75.44,-1.511),(-75.48,-1.530),(-75.40,-1.522),(-75.29,-1.502),(-75.33,-1.519),(-75.25,-1.512),(-75.14,-1.510),(-75.18,-1.502),(-75.10,-1.530),
(-74.94,-1.495),(-74.98,-1.507),(-74.90,-1.522),(-74.79,-1.496),(-74.83,-1.508),(-74.75,-1.487),(-74.64,-1.482),(-74.68,-1.495),(-74.60,-1.520),
(-74.44,-1.483),(-74.48,-1.502),(-74.40,-1.494),(-74.29,-1.474),(-74.33,-1.491),(-74.25,-1.484),(-74.14,-1.483),(-74.18,-1.475),(-74.10,-1.503),
(-73.94,-1.468),(-73.98,-1.480),(-73.90,-1.495),(-73.79,-1.470),(-73.83,-1.482),(-73.75,-1.461),(-73.64,-1.456),(-73.68,-1.469),(-73.60,-1.494),
(-73.44,-1.458),(-73.48,-1.477),(-73.40,-1.469),(-73.29,-1.450),(-73.33,-1.467),(-73.25,-1.460),(-73.14,-1.459),(-73.18,-1.451),(-73.10,-1.479),
(-72.94,-1.445),(-72.98,-1.457),(-72.90,-1.472),(-72.79,-1.448),(-72.83,-1.460),(-72.75,-1.439),(-72.64,-1.435),(-72.68,-1.448),(-72.60,-1.473),
(-72.44,-1.438),(-72.48,-1.457),(-72.40,-1.449),(-72.29,-1.430),(-72.33,-1.447),(-72.25,-1.440),(-72.14,-1.440),(-72.18,-1.432),(-72.10,-1.460),
(-71.94,-1.426),(-71.98,-1.438),(-71.90,-1.453),(-71.79,-1.429),(-71.83,-1.441),(-71.75,-1.420),(-71.64,-1.415),(-71.68,-1.428),(-71.60,-1.453),
(-71.44,-1.418),(-71.48,-1.437),(-71.40,-1.429),(-71.29,-1.410),(-71.33,-1.427),(-71.25,-1.420),(-71.14,-1.419),(-71.18,-1.411),(-71.10,-1.439),
(-70.94,-1.405),(-70.98,-1.417),(-70.90,-1.432),(-70.79,-1.406),(-70.83,-1.418),(-70.75,-1.397),(-70.64,-1.392),(-70.68,-1.405),(-70.60,-1.430),
(-70.44,-1.394),(-70.48,-1.413),(-70.40,-1.405),(-70.29,-1.385),(-70.33,-1.402),(-70.25,-1.395),(-70.14,-1.394),(-70.18,-1.386),(-70.10,-1.414),
(-69.94,-1.377),(-69.98,-1.385),(-69.90,-1.395),(-69.79,-1.378),(-69.83,-1.386),(-69.75,-1.372),(-69.64,-1.368),(-69.68,-1.377),(-69.60,-1.394),
(-69.44,-1.369),(-69.48,-1.382),(-69.40,-1.376),(-69.29,-1.362),(-69.33,-1.373),(-69.25,-1.368),(-69.14,-1.367),(-69.18,-1.361),(-69.10,-1.380),
(-68.94,-1.355),(-68.98,-1.363),(-68.90,-1.373),(-68.79,-1.356),(-68.83,-1.364),(-68.75,-1.350),(-68.64,-1.346),(-68.68,-1.355),(-68.60,-1.372),
(-68.44,-1.347),(-68.48,-1.360),(-68.40,-1.354),(-68.29,-1.341),(-68.33,-1.352),(-68.25,-1.347),(-68.14,-1.346),(-68.18,-1.340),(-68.10,-1.359),
(-67.94,-1.335),(-67.98,-1.343),(-67.90,-1.353),(-67.79,-1.336),(-67.83,-1.344),(-67.75,-1.330),(-67.64,-1.326),(-67.68,-1.335),(-67.60,-1.352),
(-67.44,-1.327),(-67.48,-1.340),(-67.40,-1.334),(-67.29,-1.322),(-67.33,-1.333),(-67.25,-1.328),(-67.14,-1.328),(-67.18,-1.322),(-67.10,-1.341),
(-66.94,-1.318),(-66.98,-1.326),(-66.90,-1.336),(-66.79,-1.321),(-66.83,-1.329),(-66.75,-1.315),(-66.64,-1.312),(-66.68,-1.321),(-66.60,-1.338),
(-66.44,-1.314),(-66.48,-1.327),(-66.40,-1.321),(-66.29,-1.309),(-66.33,-1.320),(-66.25,-1.315),(-66.14,-1.315),(-66.18,-1.309),(-66.10,-1.328),
(-65.94,-1.305),(-65.98,-1.313),(-65.90,-1.323),(-65.79,-1.307),(-65.83,-1.315),(-65.75,-1.301),(-65.64,-1.298),(-65.68,-1.307),(-65.60,-1.324),
(-65.44,-1.300),(-65.48,-1.313),(-65.40,-1.307),(-65.29,-1.295),(-65.33,-1.306),(-65.25,-1.301),(-65.14,-1.301),(-65.18,-1.295),(-65.10,-1.314),
(-64.94,-1.291),(-64.98,-1.299),(-64.90,-1.309),(-64.79,-1.292),(-64.83,-1.300),(-64.75,-1.286),(-64.64,-1.283),(-64.68,-1.292),(-64.60,-1.309),
(-64.44,-1.284),(-64.48,-1.297),(-64.40,-1.291),(-64.29,-1.277),(-64.33,-1.288),(-64.25,-1.283),(-64.14,-1.281),(-64.18,-1.275),(-64.10,-1.294),
(-63.94,-1.268),(-63.98,-1.273),(-63.90,-1.280),(-63.79,-1.268),(-63.83,-1.273),(-63.75,-1.263),(-63.64,-1.260),(-63.68,-1.266),(-63.60,-1.278),
(-63.44,-1.259),(-63.48,-1.268),(-63.40,-1.264),(-63.29,-1.254),(-63.33,-1.262),(-63.25,-1.258),(-63.14,-1.257),(-63.18,-1.253),(-63.10,-1.266),
(-62.94,-1.248),(-62.98,-1.253),(-62.90,-1.260),(-62.79,-1.250),(-62.83,-1.255),(-62.75,-1.245),(-62.64,-1.243),(-62.68,-1.249),(-62.60,-1.261),
(-62.44,-1.243),(-62.48,-1.252),(-62.40,-1.248),(-62.29,-1.239),(-62.33,-1.247),(-62.25,-1.243),(-62.14,-1.243),(-62.18,-1.239),(-62.10,-1.252),
(-61.94,-1.235),(-61.98,-1.240),(-61.90,-1.247),(-61.79,-1.236),(-61.83,-1.241),(-61.75,-1.231),(-61.64,-1.228),(-61.68,-1.234),(-61.60,-1.246),
(-61.44,-1.228),(-61.48,-1.237),(-61.40,-1.233),(-61.29,-1.224),(-61.33,-1.232),(-61.25,-1.228),(-61.14,-1.227),(-61.18,-1.223),(-61.10,-1.236),
(-60.94,-1.219),(-60.98,-1.224),(-60.90,-1.231),(-60.79,-1.219),(-60.83,-1.224),(-60.75,-1.214),(-60.64,-1.211),(-60.68,-1.217),(-60.60,-1.229),
(-60.44,-1.210),(-60.48,-1.219),(-60.40,-1.215),(-60.29,-1.204),(-60.33,-1.212),(-60.25,-1.208),(-60.14,-1.207),(-60.18,-1.203),(-60.10,-1.216),
]

# deeper part of the blue cloud
blue_deep = [
(-77.00,-1.594),(-76.92,-1.617),(-77.07,-1.640),(-76.75,-1.592),(-76.67,-1.615),(-76.82,-1.579),(-76.50,-1.587),(-76.42,-1.573),(-76.57,-1.621),(-76.25,-1.558),(-76.17,-1.602),(-76.32,-1.577),
(-76.00,-1.556),(-75.92,-1.579),(-76.07,-1.602),(-75.75,-1.559),(-75.67,-1.582),(-75.82,-1.546),(-75.50,-1.560),(-75.42,-1.546),(-75.57,-1.594),(-75.25,-1.531),(-75.17,-1.575),(-75.32,-1.550),
(-75.00,-1.529),(-74.92,-1.552),(-75.07,-1.575),(-74.75,-1.532),(-74.67,-1.555),(-74.82,-1.519),(-74.50,-1.532),(-74.42,-1.518),(-74.57,-1.566),(-74.25,-1.503),(-74.17,-1.547),(-74.32,-1.522),
(-74.00,-1.493),(-73.92,-1.511),(-74.07,-1.528),(-73.75,-1.495),(-73.67,-1.512),(-73.82,-1.485),(-73.50,-1.494),(-73.42,-1.483),(-73.57,-1.520),(-73.25,-1.471),(-73.17,-1.505),(-73.32,-1.486),
(-73.00,-1.470),(-72.92,-1.488),(-73.07,-1.505),(-72.75,-1.473),(-72.67,-1.490),(-72.82,-1.463),(-72.50,-1.474),(-72.42,-1.463),(-72.57,-1.500),(-72.25,-1.452),(-72.17,-1.486),(-72.32,-1.467),
(-72.00,-1.451),(-71.92,-1.469),(-72.07,-1.486),(-71.75,-1.454),(-71.67,-1.471),(-71.82,-1.444),(-71.50,-1.454),(-71.42,-1.443),(-71.57,-1.480),(-71.25,-1.431),(-71.17,-1.465),(-71.32,-1.446),
(-71.00,-1.430),(-70.92,-1.448),(-71.07,-1.465),(-70.75,-1.431),(-70.67,-1.448),(-70.82,-1.421),(-70.50,-1.430),(-70.42,-1.419),(-70.57,-1.456),(-70.25,-1.406),(-70.17,-1.440),(-70.32,-1.421),
(-70.00,-1.398),(-69.92,-1.412),(-70.07,-1.426),(-69.75,-1.399),(-69.67,-1.413),(-69.82,-1.391),(-69.50,-1.399),(-69.42,-1.390),(-69.57,-1.420),(-69.25,-1.379),(-69.17,-1.406),(-69.32,-1.391),
(-69.00,-1.376),(-68.92,-1.390),(-69.07,-1.404),(-68.75,-1.377),(-68.67,-1.391),(-68.82,-1.369),(-68.50,-1.377),(-68.42,-1.368),(-68.57,-1.398),(-68.25,-1.358),(-68.17,-1.385),(-68.32,-1.370),
(-68.00,-1.356),(-67.92,-1.370),(-68.07,-1.384),(-67.75,-1.357),(-67.67,-1.371),(-67.82,-1.349),(-67.50,-1.357),(-67.42,-1.348),(-67.57,-1.378),(-67.25,-1.340),(-67.17,-1.367),(-67.32,-1.352),
(-67.00,-1.335),(-66.92,-1.346),(-67.07,-1.357),(-66.75,-1.337),(-66.67,-1.348),(-66.82,-1.330),(-66.50,-1.338),(-66.42,-1.330),(-66.57,-1.355),(-66.25,-1.323),(-66.17,-1.345),(-66.32,-1.333),
(-66.00,-1.322),(-65.92,-1.333),(-66.07,-1.344),(-65.75,-1.324),(-65.67,-1.335),(-65.82,-1.317),(-65.50,-1.324),(-65.42,-1.316),(-65.57,-1.341),(-65.25,-1.309),(-65.17,-1.331),(-65.32,-1.319),
(-65.00,-1.308),(-64.92,-1.319),(-65.07,-1.330),(-64.75,-1.309),(-64.67,-1.320),(-64.82,-1.302),(-64.50,-1.308),(-64.42,-1.300),(-64.57,-1.325),(-64.25,-1.290),(-64.17,-1.312),(-64.32,-1.300),
(-64.00,-1.286),(-63.92,-1.297),(-64.07,-1.308),
]

SERIES = ["Sextupoles Only", "Sextupoles and Dodecapoles", "Sextupoles and Octupoles"]
COLORS = ["#000000", "#ff0000", "#0000ff"]

rows = []
for name, pts in zip(SERIES, [black_pts + black_band, red_pts + red_band, blue_deep + blue_pts + blue_band]):
    for xm, ym in pts:
        rows.append({"x": xm / 1000.0, "y": ym / 1000.0, "series": name})
df = pd.DataFrame(rows)

x_major = [-0.08, -0.075, -0.07, -0.065, -0.06]
x_minor = [-0.0775, -0.0725, -0.0675, -0.0625]
y_major = [-0.002, -0.0016, -0.0012]
y_minor = [-0.00196, -0.00192, -0.00188, -0.00184, -0.0018, -0.00176, -0.00172, -0.00168, -0.00164,
           -0.00156, -0.00152, -0.00148, -0.00144, -0.0014, -0.00136, -0.00132, -0.00128, -0.00124,
           -0.00116, -0.00112, -0.00108, -0.00104]

W, H = 965, 675
FONT = "Liberation Serif"
xscale = alt.Scale(domain=[-0.08, -0.06], nice=False, zero=False)
yscale = alt.Scale(domain=[-0.002, -0.001], nice=False, zero=False)

ax_x = alt.Axis(
    values=x_major, labelExpr="'' + datum.value", ticks=False, domain=False, grid=False,
    labelFlush=False, labelOverlap=False,
    labelFont=FONT, labelFontSize=36, labelColor="black", labelPadding=5,
    title="x (m)", titleFont=FONT, titleFontSize=38, titleFontWeight="normal", titleColor="black",
    titleX=476, titleY=71, titleBaseline="alphabetic", titleAlign="center")
ax_y = alt.Axis(
    values=y_major, labelExpr="'' + datum.value", ticks=False, domain=False, grid=False,
    labelFlush=False, labelOverlap=False,
    labelFont=FONT, labelFontSize=37, labelColor="black", labelPadding=10,
    title="x’ (rad)", titleFont=FONT, titleFontSize=38, titleFontWeight="normal", titleColor="black",
    titleX=-66, titleY=271, titleAngle=270, titleBaseline="alphabetic", titleAlign="center")

points = alt.Chart(df).mark_circle(size=20, opacity=1).encode(
    x=alt.X("x:Q", scale=xscale, axis=ax_x),
    y=alt.Y("y:Q", scale=yscale, axis=ax_y),
    color=alt.Color("series:N", scale=alt.Scale(domain=SERIES, range=COLORS), legend=alt.Legend(
        title=None, orient="none", legendX=147, legendY=47, fillColor="white", strokeColor="black",
        padding=6, symbolType="circle", symbolSize=324, symbolOffset=2, labelOffset=10,
        labelFont=FONT, labelFontSize=38, labelColor="black", labelLimit=0, rowPadding=8,
        symbolStrokeWidth=0, symbolOpacity=1)),
)

def xticks(vals, length):
    d = pd.DataFrame({"v": vals})
    bottom = alt.Chart(d).mark_rule(color="black", strokeWidth=2).encode(
        x=alt.X("v:Q", scale=xscale, axis=ax_x), y=alt.value(H), y2=alt.value(H - length))
    top = alt.Chart(d).mark_rule(color="black", strokeWidth=2).encode(
        x=alt.X("v:Q", scale=xscale, axis=ax_x), y=alt.value(0), y2=alt.value(length))
    return [bottom, top]

def yticks(vals, length):
    d = pd.DataFrame({"v": vals})
    left = alt.Chart(d).mark_rule(color="black", strokeWidth=2).encode(
        y=alt.Y("v:Q", scale=yscale, axis=ax_y), x=alt.value(0), x2=alt.value(length))
    right = alt.Chart(d).mark_rule(color="black", strokeWidth=2).encode(
        y=alt.Y("v:Q", scale=yscale, axis=ax_y), x=alt.value(W), x2=alt.value(W - length))
    return [left, right]

layers = [points] + xticks(x_major, 20) + xticks(x_minor, 10) + yticks(y_major, 20) + yticks(y_minor, 10)

chart = alt.layer(*layers).properties(
    width=W, height=H,
    padding={"left": 138, "top": 8, "right": 50, "bottom": 85},
    autosize=alt.AutoSizeParams(type="none"),
    background="white",
).configure_view(stroke="black", strokeWidth=2).configure_legend(strokeWidth=1.5).configure_axis(
    labelFont=FONT, titleFont=FONT)

chart.save("out.html", embed_options={"renderer": "svg", "actions": False})
